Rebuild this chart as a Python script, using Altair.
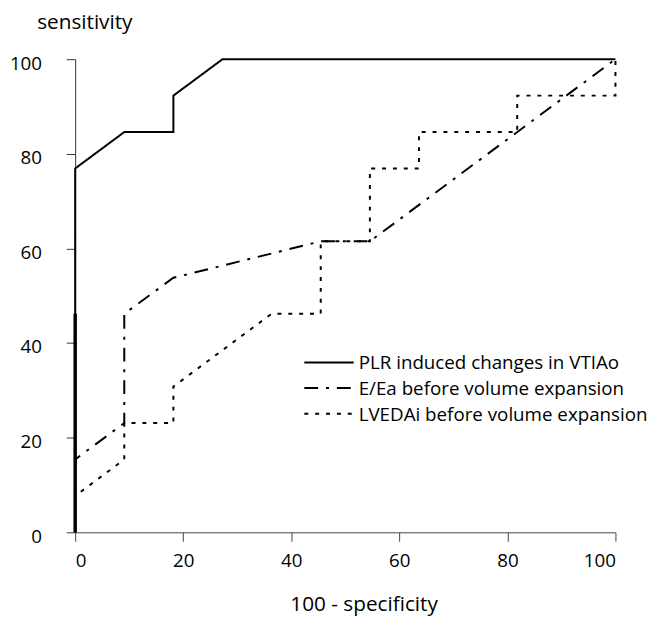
import altair as alt
import pandas as pd

series = ["PLR induced changes in VTIAo", "E/Ea before volume expansion", "LVEDAi before volume expansion"]

plr_x = [0, 0, 9.09, 18.18, 18.18, 27.27, 100]
plr_y = [0, 76.9, 84.6, 84.6, 92.3, 100, 100]

eea_x = [0, 0, 9.09, 9.09, 18.18, 45.45, 54.55, 100]
eea_y = [0, 15.4, 23.1, 46.2, 53.8, 61.5, 61.5, 100]

lv_x = [0, 0, 9.09, 9.09, 18.18, 18.18, 36.36, 45.45, 45.45, 54.55, 54.55, 63.64, 63.64, 81.82, 81.82, 100, 100]
lv_y = [0, 7.7, 15.4, 23.1, 23.1, 30.8, 46.2, 46.2, 61.5, 61.5, 76.9, 76.9, 84.6, 84.6, 92.3, 92.3, 100]

overlap_x = [0]
overlap_y = [0]
overlap_y2 = [46.2]

tick_vals = [0, 20, 40, 60, 80, 100]
legend_rows = [0, 1, 2]

rows = []
for name, xs, ys in zip(series, [plr_x, eea_x, lv_x], [plr_y, eea_y, lv_y]):
    for i, (a, b) in enumerate(zip(xs, ys)):
        rows.append({"series": name, "x": a, "y": b, "idx": i})
df = pd.DataFrame(rows)
ov = pd.DataFrame({"x": overlap_x, "y": overlap_y, "y2": overlap_y2})
leg = pd.DataFrame({"series": series, "row": legend_rows})

FONT = "Open Sans"

xaxis = alt.Axis(values=tick_vals, title="100 - specificity", grid=False, tickSize=9,
                 labelPadding=26, labelBaseline="alphabetic",
                 domainColor="#444", tickColor="#444", labelColor="black",
                 labelFont=FONT, labelFontSize=19, titleFont=FONT, titleFontSize=21,
                 titleFontWeight="normal", titleColor="black", titleY=79, titleX=292,
                 titleAlign="center", titleBaseline="alphabetic")
yaxis = alt.Axis(values=tick_vals, title="sensitivity", grid=False, tickSize=9,
                 labelPadding=25, labelBaseline="alphabetic", labelOffset=10,
                 domainColor="#333", tickColor="#333", labelColor="black",
                 labelFont=FONT, labelFontSize=19, titleFont=FONT, titleFontSize=21,
                 titleFontWeight="normal", titleColor="black", titleAngle=0,
                 titleAlign="left", titleX=-39, titleY=-31, titleBaseline="alphabetic")

dash = alt.StrokeDash(
    "series:N",
    scale=alt.Scale(domain=series, range=[[1, 0], [14, 8, 3, 8], [4, 7]]),
    legend=None,
)

lines = alt.Chart(df).mark_line(color="black", strokeWidth=2).encode(
    x=alt.X("x:Q", scale=alt.Scale(domain=[0, 100], nice=False), axis=xaxis),
    y=alt.Y("y:Q", scale=alt.Scale(domain=[0, 100], nice=False), axis=yaxis),
    strokeDash=dash,
    order=alt.Order("idx:Q"),
)

overlay = alt.Chart(ov).mark_rule(color="black", strokeWidth=3.5).encode(
    x="x:Q", y="y:Q", y2="y2:Q"
)

leg_y = alt.Y("row:Q", scale=alt.Scale(domain=[0, 2], range=[307, 359]), axis=None)

leg_sym = alt.Chart(leg).mark_rule(color="black", strokeWidth=2).encode(
    x=alt.value(232), x2=alt.value(282), y=leg_y, strokeDash=dash,
)
leg_txt = alt.Chart(leg).mark_text(align="left", baseline="middle", font=FONT,
                                   fontSize=19, color="black", dy=1).encode(
    x=alt.value(287), y=leg_y, text="series:N",
)

chart = alt.layer(
    alt.layer(lines, overlay),
    alt.layer(leg_sym, leg_txt),
).resolve_scale(y="independent").properties(
    width=547, height=479,
    autosize=alt.AutoSizeParams(type="none"),
    padding={"left": 68, "top": 48, "right": 36, "bottom": 90},
).configure_view(stroke=None)

chart.save("out.html", embed_options={"renderer": "svg", "actions": False})
